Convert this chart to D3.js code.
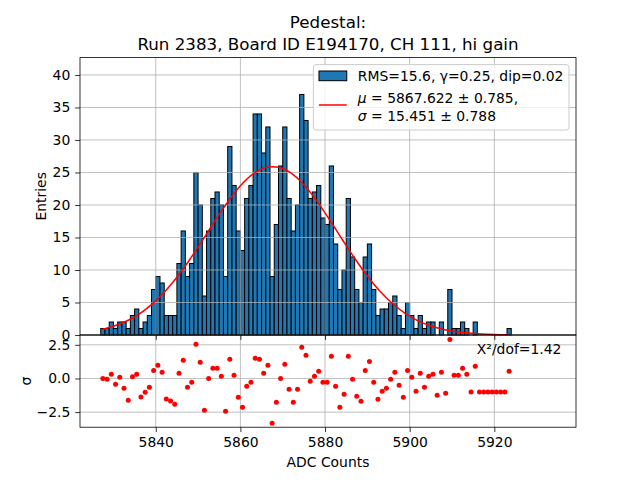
<!DOCTYPE html>
<html>
<head>
<meta charset="utf-8">
<script src="https://cdn.jsdelivr.net/npm/d3@7"></script>
<style>
  body { margin: 0; background: #fff; }
  text { font-family: "DejaVu Sans", sans-serif; }
</style>
</head>
<body>
<script>

// Histogram bins: lower edge of each bin, width 1 ADC count
const binEdges = d3.range(5827, 5924)

const counts = [
  1, 1, 2, 1, 2, 2, 1, 3, 4, 1,
  2, 3, 7, 9, 8, 3, 3, 3, 11, 16,
  9, 11, 25, 20, 6, 16, 21, 22, 20, 9,
  29, 23, 16, 13, 21, 23, 34, 34, 28, 32,
  9, 17, 26, 32, 21, 16, 20, 37, 33, 21,
  22, 23, 18, 17, 26, 14, 7, 10, 21, 12,
  7, 5, 12, 14, 7, 3, 4, 4, 5, 6,
  3, 1, 5, 3, 1, 3, 1, 2, 2, 0,
  2, 0, 7, 1, 1, 2, 1, 0, 2, 0,
  0, 0, 0, 0, 0, 0, 1
]

// residual per bin (pull), same bins as counts
const residuals = [
  0.0, -0.06, 0.31, -0.43, 0.1, -0.73, -1.62, 0.12, 0.31, -1.37,
  -1.03, -0.66, 0.6, 0.98, 0.46, -1.52, -1.67, -1.92, 0.38, 1.35,
  -0.66, -0.28, 2.54, 1.2, -2.36, 0.0, 0.76, 0.76, 0.16, -2.44,
  1.42, 0.24, -1.4, -2.14, -0.58, -0.28, 1.5, 1.42, 0.38, 0.98,
  -3.33, -1.77, 0.0, 1.05, -0.8, -1.77, -0.8, 2.32, 1.72, -0.21,
  0.16, 0.53, -0.28, -0.28, 1.65, -0.58, -2.14, -1.17, 1.65, -0.06,
  -1.32, -1.7, 0.6, 1.27, -0.28, -1.55, -0.95, -0.73, -0.06, 0.46,
  -0.51, -1.4, 0.6, 0.1, -0.95, 0.38, -0.66, 0.16, 0.31, -1.25,
  0.46, -1.1, 2.9, 0.24, 0.24, 0.76, 0.31, -1.0, 0.9, -1.0,
  -1.0, -1.0, -1.0, -1.0, -1.0, -1.0, 0.53
]

// Gaussian fit curve
const fitX = [5827, 5830, 5833, 5836, 5839, 5842, 5845, 5848, 5851, 5854, 5857,
  5860, 5863, 5866, 5869, 5872, 5875, 5878, 5881, 5884, 5887, 5890,
  5893, 5896, 5899, 5902, 5905, 5908, 5911, 5914, 5917, 5920, 5923]
const fitY = [0.82, 1.34, 2.11, 3.19, 4.67, 6.56, 8.88, 11.58, 14.53, 17.57, 20.45,
  22.94, 24.77, 25.76, 25.8, 24.89, 23.11, 20.67, 17.8, 14.77, 11.8, 9.08,
  6.72, 4.8, 3.3, 2.18, 1.39, 0.85, 0.51, 0.29, 0.16, 0.08, 0.04]

const xTicks = [5840, 5860, 5880, 5900, 5920]
const yTicks = [0, 5, 10, 15, 20, 25, 30, 35, 40]
const resTicks = [-2.5, 0, 2.5]

const titleLines = ['Pedestal:', 'Run 2383, Board ID E194170, CH 111, hi gain']
const histLabel = 'RMS=15.6, γ=0.25, dip=0.02'
const chiText = 'X²/dof=1.42'

const w = 640
const h = 480
const fs = 13.9

const svg = d3.select('body')
  .append('svg')
  .attr('width', w)
  .attr('height', h)

const pLeft = 80, pRight = 576, pTop = 57.6, pMid = 335, pBottom = 427.2

const x = d3.scaleLinear().domain([5822.1, 5939.3]).range([pLeft, pRight])
const y = d3.scaleLinear().domain([0, 42.67]).range([pMid, pTop])
const yr = d3.scaleLinear().domain([-3.62, 3.23]).range([pBottom, pMid])

// bars
svg.append('g')
  .selectAll('rect')
  .data(binEdges.map((b, i) => ({ b: b, n: counts[i] })).filter(d => d.n > 0))
  .enter()
  .append('rect')
  .attr('x', d => x(d.b))
  .attr('width', d => x(d.b + 1) - x(d.b))
  .attr('y', d => y(d.n))
  .attr('height', d => y(0) - y(d.n))
  .attr('fill', '#1f77b4')
  .attr('stroke', 'black')
  .attr('stroke-width', 1)

// grid, both panels
const grid = svg.append('g')
  .attr('stroke', '#b0b0b0')
  .attr('stroke-width', 0.8)
grid.selectAll('.vx')
  .data(xTicks)
  .enter()
  .append('line')
  .attr('x1', d => x(d)).attr('x2', d => x(d))
  .attr('y1', pTop).attr('y2', pBottom)
grid.selectAll('.hy')
  .data(yTicks)
  .enter()
  .append('line')
  .attr('x1', pLeft).attr('x2', pRight)
  .attr('y1', d => y(d)).attr('y2', d => y(d))
grid.selectAll('.hr')
  .data(resTicks)
  .enter()
  .append('line')
  .attr('x1', pLeft).attr('x2', pRight)
  .attr('y1', d => yr(d)).attr('y2', d => yr(d))

// fit
svg.append('path')
  .datum(fitX.map((v, i) => [v, fitY[i]]))
  .attr('d', d3.line().x(d => x(d[0])).y(d => y(d[1])).curve(d3.curveCatmullRom))
  .attr('fill', 'none')
  .attr('stroke', 'red')
  .attr('stroke-width', 1.5)

// residual points
svg.append('g')
  .selectAll('circle')
  .data(binEdges.map((b, i) => ({ b: b, r: residuals[i] })))
  .enter()
  .append('circle')
  .attr('cx', d => x(d.b + 0.5))
  .attr('cy', d => yr(d.r))
  .attr('r', 2.5)
  .attr('fill', 'red')

// axes
function styleAxis(g) {
  g.select('.domain').remove()
  g.selectAll('.tick line').attr('stroke', 'black').attr('stroke-width', 0.8)
  g.selectAll('.tick text')
    .attr('fill', 'black')
    .style('font-size', fs + 'px')
    .style('font-family', '"DejaVu Sans", sans-serif')
}

svg.append('g')
  .attr('transform', `translate(${pLeft},0)`)
  .call(d3.axisLeft(y).tickValues(yTicks).tickSize(4.86).tickPadding(4.86).tickFormat(d3.format('d')))
  .call(styleAxis)

svg.append('g')
  .attr('transform', `translate(${pLeft},0)`)
  .call(d3.axisLeft(yr).tickValues(resTicks).tickSize(4.86).tickPadding(4.86).tickFormat(d3.format('.1f')))
  .call(styleAxis)

svg.append('g')
  .attr('transform', `translate(0,${pMid})`)
  .call(d3.axisBottom(x).tickValues(xTicks).tickSize(4.86).tickFormat(''))
  .call(styleAxis)

svg.append('g')
  .attr('transform', `translate(0,${pBottom})`)
  .call(d3.axisBottom(x).tickValues(xTicks).tickSize(4.86).tickPadding(4.86).tickFormat(d3.format('d')))
  .call(styleAxis)

// spines
svg.append('rect')
  .attr('x', pLeft).attr('y', pTop)
  .attr('width', pRight - pLeft).attr('height', pMid - pTop)
  .attr('fill', 'none').attr('stroke', 'black').attr('stroke-width', 0.8)
svg.append('rect')
  .attr('x', pLeft).attr('y', pMid)
  .attr('width', pRight - pLeft).attr('height', pBottom - pMid)
  .attr('fill', 'none').attr('stroke', 'black').attr('stroke-width', 0.8)

// labels
svg.selectAll('.title')
  .data(titleLines)
  .enter()
  .append('text')
  .attr('x', (pLeft + pRight) / 2)
  .attr('y', (d, i) => 28 + i * 21.5)
  .attr('text-anchor', 'middle')
  .style('font-size', '16.7px')
  .text(d => d)

svg.append('text')
  .attr('transform', `translate(46,${(pTop + pMid) / 2}) rotate(-90)`)
  .attr('text-anchor', 'middle')
  .style('font-size', fs + 'px')
  .text('Entries')

svg.append('text')
  .attr('transform', `translate(31,${(pMid + pBottom) / 2}) rotate(-90)`)
  .attr('text-anchor', 'middle')
  .style('font-size', fs + 'px')
  .text('σ')

svg.append('text')
  .attr('x', (pLeft + pRight) / 2)
  .attr('y', 467)
  .attr('text-anchor', 'middle')
  .style('font-size', fs + 'px')
  .text('ADC Counts')

svg.append('text')
  .attr('x', pLeft + 0.8 * (pRight - pLeft))
  .attr('y', 354)
  .style('font-size', fs + 'px')
  .text(chiText)

// Legend
const lg = svg.append('g')
const box = lg.append('rect')
const t1 = lg.append('text').attr('y', 81).style('font-size', fs + 'px').text(histLabel)
const t2 = lg.append('text').attr('y', 102.5).style('font-size', fs + 'px')
t2.append('tspan').style('font-style', 'italic').text('μ')
t2.append('tspan').text(' = 5867.622 ± 0.785,')
const t3 = lg.append('text').attr('y', 120.5).style('font-size', fs + 'px')
t3.append('tspan').style('font-style', 'italic').text('σ')
t3.append('tspan').text(' = 15.451 ± 0.788')

const boxRight = pRight - 7
const tw = d3.max([t1, t2, t3], t => t.node().getComputedTextLength())
const textX = boxRight - 5.6 - tw
const handleX = textX - 11.1 - 27.8
const boxX = handleX - 5.6

t1.attr('x', textX)
t2.attr('x', textX)
t3.attr('x', textX)

box.attr('x', boxX)
  .attr('y', pTop + 7)
  .attr('width', boxRight - boxX)
  .attr('height', 130 - pTop - 7)
  .attr('rx', 2.8)
  .attr('fill', 'white')
  .attr('fill-opacity', 0.8)
  .attr('stroke', '#cccccc')
  .attr('stroke-width', 1)

lg.append('rect')
  .attr('x', handleX)
  .attr('y', 71)
  .attr('width', 27.8)
  .attr('height', 9.7)
  .attr('fill', '#1f77b4')
  .attr('stroke', 'black')
  .attr('stroke-width', 1)

lg.append('line')
  .attr('x1', handleX).attr('x2', handleX + 27.8)
  .attr('y1', 105).attr('y2', 105)
  .attr('stroke', 'red')
  .attr('stroke-width', 1.5)

</script>
</body>
</html>
